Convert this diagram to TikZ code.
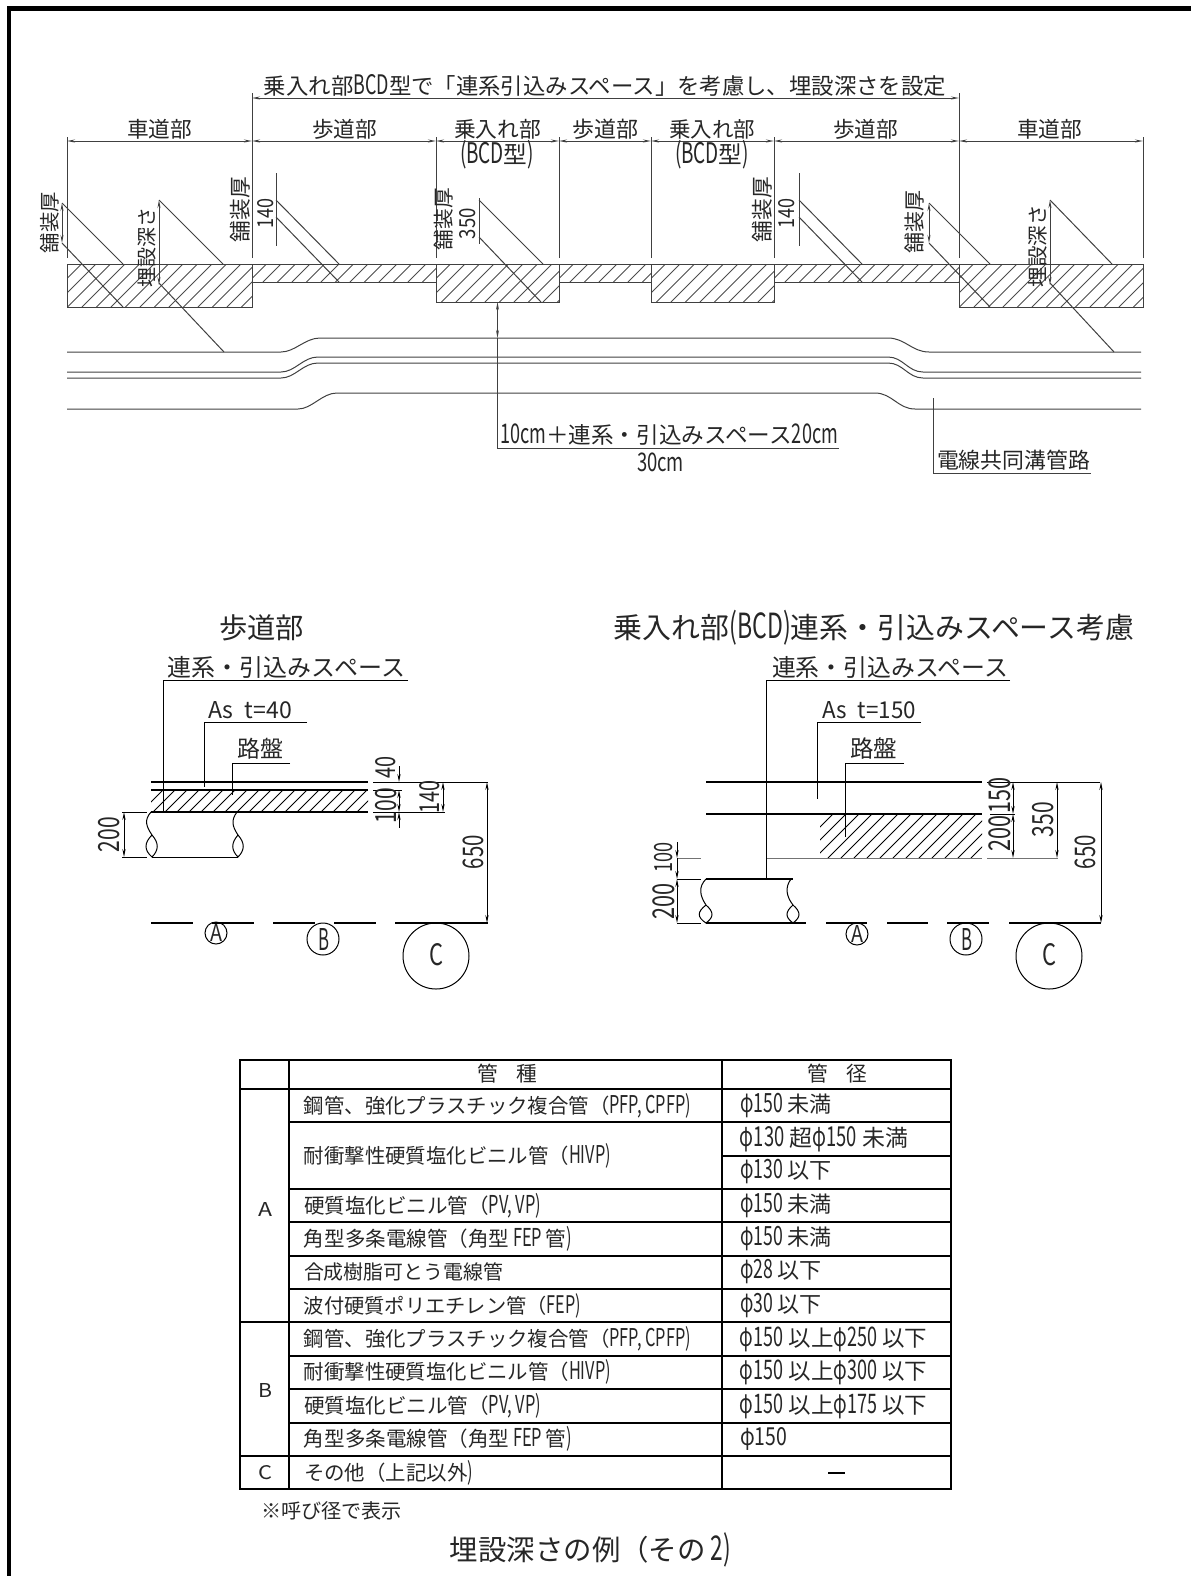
\documentclass[tikz,border=0pt]{standalone}
\usepackage{fontspec}
\setmainfont{Noto Sans CJK JP}
\usetikzlibrary{arrows.meta}
\newcounter{tn}
\newcommand\nw[1]{\scalebox{.72}[1]{#1}}
\newcommand\nn[1]{\scalebox{.8}[1.2]{#1}}
% \tx{x1}{x2}{yc}{text}: horizontal text filling x1..x2
\newcommand\tx[4]{\stepcounter{tn}\node[txt] (t\arabic{tn}) at ({(#1+#2)/2},#3) {\resizebox{\dimexpr(#2pt - #1pt)/2\relax}{!}{#4}};}
% \txa{x1}{x2}{yc}{h}{text}: same with fixed glyph height
\newcommand\txa[5]{\stepcounter{tn}\node[txt] (t\arabic{tn}) at ({(#1+#2)/2},#3) {\resizebox{\dimexpr(#2pt - #1pt)/2\relax}{\dimexpr#4pt/2\relax}{#5}};}
% \tv{xc}{y1}{y2}{text}: rotated text filling y1..y2
\newcommand\tv[4]{\stepcounter{tn}\node[txt,rotate=90] (t\arabic{tn}) at (#1,{(#2+#3)/2}) {\resizebox{\dimexpr(#3pt - #2pt)/2\relax}{!}{#4}};}
% \tvh{xc}{y1}{y2}{h}{text}: rotated with fixed thickness
\newcommand\tvh[5]{\stepcounter{tn}\node[txt,rotate=90] (t\arabic{tn}) at (#1,{(#2+#3)/2}) {\resizebox{\dimexpr(#3pt - #2pt)/2\relax}{\dimexpr#4pt/2\relax}{#5}};}
\newcommand\hatch[6][hl]{\begin{scope}\clip (#2,#3) rectangle (#4,#5);
 \pgfmathsetmacro\hh{#5-#3}\pgfmathsetmacro\hs{#2-\hh}\pgfmathsetmacro\hn{#2-\hh+#6}
 \foreach \k in {\hs,\hn,...,#4} {\draw[#1] (\k,#5) -- ++(\hh,-\hh);}
 \end{scope}}
\tikzset{
 x=0.5pt,y=-0.5pt,
 txt/.style={inner sep=0pt,outer sep=0pt,text=black!85},
 hl/.style={line width=.4pt,draw=black!70},
 tl/.style={line width=.5pt,draw=black!75},
 ml/.style={line width=.75pt,draw=black},
 nl/.style={line width=.5pt,draw=black},
 dimtop/.style={tl,{Stealth[length=4pt,width=1.5pt]}-{Stealth[length=4pt,width=1.5pt]}},
 dimlow/.style={nl,{Stealth[length=4pt,width=1.6pt]}-{Stealth[length=4pt,width=1.6pt]}},
 tb/.style={line width=.85pt,draw=black},
}
\begin{document}
\begin{tikzpicture}
\useasboundingbox (0,0) rectangle (1191,1576);
% frame: top and left only
\fill[black] (7,6) rectangle (1191,10.5);
\fill[black] (7,6) rectangle (11.3,1576);

% ---------- TOP FIGURE ----------
\tx{264}{946}{85}{乗入れ部\nn{BCD}型で「連系引込みスペース」を考慮し、埋設深さを設定}
\draw[dimtop] (252,98) -- (959,98);
\foreach \a in {67,252,436,559,651,774,959,1143}{\draw[tl] (\a,258) -- (\a,137);}
\draw[tl] (252,137) -- (252,93);
\draw[tl] (959,137) -- (959,93);
\foreach \a/\b in {67/252,252/436,436/559,559/651,651/774,774/959,959/1143}{\draw[dimtop] (\a,141) -- (\b,141);}
\tx{127}{192}{129}{車道部}
\tx{312}{377}{129}{歩道部}
\tx{454}{541}{129}{乗入れ部}
\tx{572}{638}{129}{歩道部}
\tx{669}{755}{129}{乗入れ部}
\tx{833}{898}{129}{歩道部}
\tx{1017}{1082}{129}{車道部}
\tx{460}{534}{155}{\nn{(BCD}型\nn{)}}
\tx{675}{749}{155}{\nn{(BCD}型\nn{)}}
% hatched pavement
\hatch{67}{264}{252}{307}{14.5}
\hatch{252}{264}{436}{282}{14.5}
\hatch{436}{264}{559}{302}{14.5}
\hatch{559}{264}{651}{282}{14.5}
\hatch{651}{264}{774}{302}{14.5}
\hatch{774}{264}{959}{282}{14.5}
\hatch{959}{264}{1143}{307}{14.5}
\draw[tl] (67,264) -- (1143,264);
\draw[tl] (67,264) rectangle (252,307);
\draw[tl] (252,282) -- (436,282);
\draw[tl] (436,264) rectangle (559,302);
\draw[tl] (559,282) -- (651,282);
\draw[tl] (651,264) rectangle (774,302);
\draw[tl] (774,282) -- (959,282);
\draw[tl] (959,264) rectangle (1143,307);
% leaders
\tv{50}{192}{253}{舗装厚}
\draw[dimtop] (62,203) -- (62,243);
\draw[tl] (62,203) -- (123,264) (62,243) -- (123,307);
\tv{147}{207}{287}{埋設深さ}
\draw[dimtop] (159,200) -- (159,285);
\draw[tl] (159,200) -- (223,264) (159,283) -- (224,352);
\tv{240}{177}{242}{舗装厚}
\tvh{266}{198}{228}{16}{\nw{140}}
\draw[tl] (276,173) -- (276,246);
\draw[tl] (276,200) -- (339,264) (276,217) -- (339,282);
\tv{444}{188}{250}{舗装厚}
\tvh{468}{208}{239}{16}{\nw{350}}
\draw[tl] (479,198) -- (479,244);
\draw[tl] (479,200) -- (543,264) (479,237) -- (541,302);
\tv{762}{177}{242}{舗装厚}
\tvh{787}{198}{228}{16}{\nw{140}}
\draw[tl] (799,173) -- (799,246);
\draw[tl] (799,200) -- (862,264) (799,217) -- (862,282);
\tv{915}{190}{253}{舗装厚}
\draw[dimtop] (929,203) -- (929,243);
\draw[tl] (929,203) -- (990,264) (929,243) -- (990,307);
\tv{1038}{205}{287}{埋設深さ}
\draw[dimtop] (1050,200) -- (1050,285);
\draw[tl] (1050,200) -- (1112,264) (1050,283) -- (1114,352);
% conduit lines
\draw[tl] (67,352) -- (281,352) .. controls (295,352) and (305,338) .. (320,338) -- (888,338) .. controls (905,338) and (912,352) .. (929,352) -- (1141,352);
\draw[tl] (67,372) -- (281,372) .. controls (295,372) and (303,357) .. (318,357) -- (888,357) .. controls (903,357) and (908,372) .. (923,372) -- (1141,372);
\draw[tl] (67,378) -- (281,378) .. controls (295,378) and (303,363) .. (318,363) -- (888,363) .. controls (903,363) and (908,378) .. (923,378) -- (1141,378);
\draw[tl] (67,409) -- (298,409) .. controls (312,409) and (322,393) .. (337,393) -- (875,393) .. controls (892,393) and (898,409) .. (915,409) -- (1141,409);
% 30cm leader
\draw[dimtop] (497.5,302) -- (497.5,338);
\draw[tl] (497.5,338) -- (497.5,448) -- (839,448);
\tx{500}{838}{435}{\nn{10cm}＋連系・引込みスペース\nn{20cm}}
\tx{637}{684}{462}{\nw{30cm}}
% duct label
\draw[tl] (933,398) -- (933,473) -- (1091,473);
\tx{937}{1090}{460}{電線共同溝管路}

% ---------- TITLES ----------
\tx{219}{304}{628}{歩道部}
\tx{614}{1134}{628}{乗入れ部\nn{(BCD)}連系・引込みスペース考慮}

% ---------- LEFT SECTION ----------
\tx{168}{405}{667}{連系・引込みスペース}
\draw[nl] (408,680) -- (163,680) -- (163,812);
\txa{208}{292}{710}{17}{As\hspace{.5em}t=40}
\draw[nl] (307,722) -- (204,722) -- (204,787);
\tx{237}{283}{749}{路盤}
\draw[nl] (290,763) -- (232,763) -- (232,795);
\hatch[nl]{151}{790}{368}{812}{12}
\draw[ml] (151,782) -- (368,782);
\draw[ml] (151,790) -- (368,790);
\draw[ml] (151,812) -- (368,812);
\draw[nl] (373,782) -- (488,782);
\draw[nl] (373,790) -- (402,790);
\draw[nl] (373,812) -- (445,812);
\draw[nl,-{Stealth[length=4pt,width=1.6pt]}] (399,766) -- (399,782);
\draw[dimlow] (399,790) -- (399,812);
\draw[nl,{Stealth[length=4pt,width=1.6pt]}-] (399,812) -- (399,828);
\tv{386}{756}{778}{\nw{40}}
\tv{386}{788}{823}{\nw{100}}
\draw[dimlow] (443,782) -- (443,812);
\tv{430}{780}{813}{\nw{140}}
\draw[dimlow] (487,782) -- (487,923);
\tv{473}{835}{869}{\nw{650}}
\draw[dimlow] (124,812) -- (124,857);
\tv{109}{817}{852}{\nw{200}}
\draw[nl] (122,812) -- (147,812) (122,857) -- (147,857);
% pipe
\draw[nl] (152,857) -- (238,857);
\draw[nl] (151,812) .. controls (144,820) and (146,826) .. (152,835) .. controls (144,843) and (144,850) .. (152,857) .. controls (159,850) and (159,843) .. (152,835);
\draw[nl] (237,812) .. controls (231,820) and (232,826) .. (238,835) .. controls (231,843) and (231,850) .. (238,857) .. controls (245,850) and (245,843) .. (238,835);
% line of depth
\foreach \a/\b in {151/193,212/254,273/315,334/376,395/488}{\draw[ml] (\a,923) -- (\b,923);}
\draw[nl] (216,933) circle[radius=11];
\txa{210}{222}{933}{17}{A}
\draw[nl] (323,939) circle[radius=16];
\txa{318}{329}{939}{22}{B}
\draw[nl] (436,956) circle[radius=33];
\txa{429}{443}{955}{22}{C}

% ---------- RIGHT SECTION ----------
\tx{772}{1008}{667}{連系・引込みスペース}
\draw[nl] (1010,680) -- (766,680) -- (766,879);
\txa{822}{916}{710}{17}{As\hspace{.5em}t=150}
\draw[nl] (921,722) -- (817,722) -- (817,799);
\tx{850}{897}{749}{路盤}
\draw[nl] (904,763) -- (845,763) -- (845,837);
\hatch[nl]{820}{814}{982}{858}{13}
\draw[ml] (706,782) -- (982,782);
\draw[ml] (706,814) -- (982,814);
\draw[nl,black!55] (767,858) -- (982,858);
\draw[nl,black!55] (677,858) -- (701,858);
\draw[nl] (987,782) -- (1100,782);
\draw[nl] (990,814) -- (1015,814);
\draw[nl,black!55] (987,858) -- (1058,858);
\draw[dimlow] (1013,782) -- (1013,814);
\draw[dimlow] (1013,814) -- (1013,858);
\tv{1000}{777}{813}{\nw{150}}
\tv{1000}{815}{851}{\nw{200}}
\draw[dimlow] (1057,782) -- (1057,858);
\tv{1043}{802}{837}{\nw{350}}
\draw[dimlow] (1101,782) -- (1101,923);
\tv{1085}{835}{869}{\nw{650}}
\draw[nl,-{Stealth[length=4pt,width=1.6pt]}] (677,842) -- (677,858);
\draw[nl,{Stealth[length=4pt,width=1.6pt]}-] (677,879) -- (677,858);
\draw[dimlow] (677,879) -- (677,923);
\tv{664}{842}{872}{\nw{100}}
\tv{664}{883}{919}{\nw{200}}
\draw[nl] (677,879) -- (701,879) (677,923) -- (701,923);
% pipe
\draw[ml] (706,879) -- (793,879);
\draw[nl] (706,879) .. controls (698,887) and (700,896) .. (706,905) .. controls (697,912) and (697,917) .. (706,923) .. controls (714,917) and (714,912) .. (706,905);
\draw[nl] (791,879) .. controls (785,887) and (786,896) .. (793,905) .. controls (785,912) and (785,917) .. (793,923) .. controls (801,917) and (801,912) .. (793,905);
\foreach \a/\b in {706/806,826/867,887/928,947/989,1009/1101}{\draw[ml] (\a,923) -- (\b,923);}
\draw[nl] (857,934) circle[radius=11];
\txa{851}{863}{934}{17}{A}
\draw[nl] (966,939) circle[radius=16];
\txa{961}{972}{939}{22}{B}
\draw[nl] (1049,956) circle[radius=33];
\txa{1042}{1056}{955}{22}{C}

% ---------- TABLE ----------
\draw[tb] (240,1060) rectangle (951,1489);
\draw[tb] (289,1060) -- (289,1489);
\draw[tb] (722,1060) -- (722,1489);
\draw[tb] (240,1089) -- (951,1089);
\draw[tb] (289,1122) -- (951,1122);
\draw[tb] (722,1156) -- (951,1156);
\foreach \r in {1189,1222,1256,1289}{\draw[tb] (289,\r) -- (951,\r);}
\draw[tb] (240,1322) -- (951,1322);
\foreach \r in {1356,1389,1423}{\draw[tb] (289,\r) -- (951,\r);}
\draw[tb] (240,1456) -- (951,1456);
\tx{477}{537}{1074}{管\hspace{.9em}種}
\tx{807}{867}{1074}{管\hspace{.9em}径}
\txa{258}{272}{1209}{14}{A}
\txa{258}{272}{1390}{14}{B}
\txa{258}{272}{1473}{14}{C}
\tx{304}{691}{1106}{鋼管、強化プラスチック複合管（\nn{PFP, CPFP)}}
\tx{304}{611}{1156}{耐衝撃性硬質塩化ビニル管（\nn{HIVP)}}
\tx{304}{541}{1206}{硬質塩化ビニル管（\nn{PV, VP)}}
\tx{304}{572}{1239}{角型多条電線管（角型\nn{ FEP }管\nn{)}}
\tx{304}{503}{1272}{合成樹脂可とう電線管}
\tx{304}{581}{1306}{波付硬質ポリエチレン管（\nn{FEP)}}
\tx{304}{691}{1339}{鋼管、強化プラスチック複合管（\nn{PFP, CPFP)}}
\tx{304}{611}{1372}{耐衝撃性硬質塩化ビニル管（\nn{HIVP)}}
\tx{304}{541}{1406}{硬質塩化ビニル管（\nn{PV, VP)}}
\tx{304}{572}{1439}{角型多条電線管（角型\nn{ FEP }管\nn{)}}
\tx{304}{473}{1473}{その他（上記以外\nn{)}}
\tx{740}{832}{1106}{\nn{φ150} 未満}
\tx{740}{908}{1139}{\nn{φ130} 超\nn{φ150} 未満}
\tx{740}{832}{1172}{\nn{φ130} 以下}
\tx{740}{832}{1206}{\nn{φ150} 未満}
\tx{740}{832}{1239}{\nn{φ150} 未満}
\tx{740}{822}{1272}{\nn{φ28} 以下}
\tx{740}{822}{1306}{\nn{φ30} 以下}
\tx{740}{927}{1339}{\nn{φ150} 以上\nn{φ250} 以下}
\tx{740}{927}{1372}{\nn{φ150} 以上\nn{φ300} 以下}
\tx{740}{927}{1406}{\nn{φ150} 以上\nn{φ175} 以下}
\txa{740}{787}{1439}{18}{\nw{φ150}}
\draw[nl,line width=.7pt] (828,1473) -- (845,1473);
\tx{261}{402}{1511}{※呼び径で表示}
\tx{450}{731}{1550}{埋設深さの例（その\nn{ 2)}}
\end{tikzpicture}
\end{document}
